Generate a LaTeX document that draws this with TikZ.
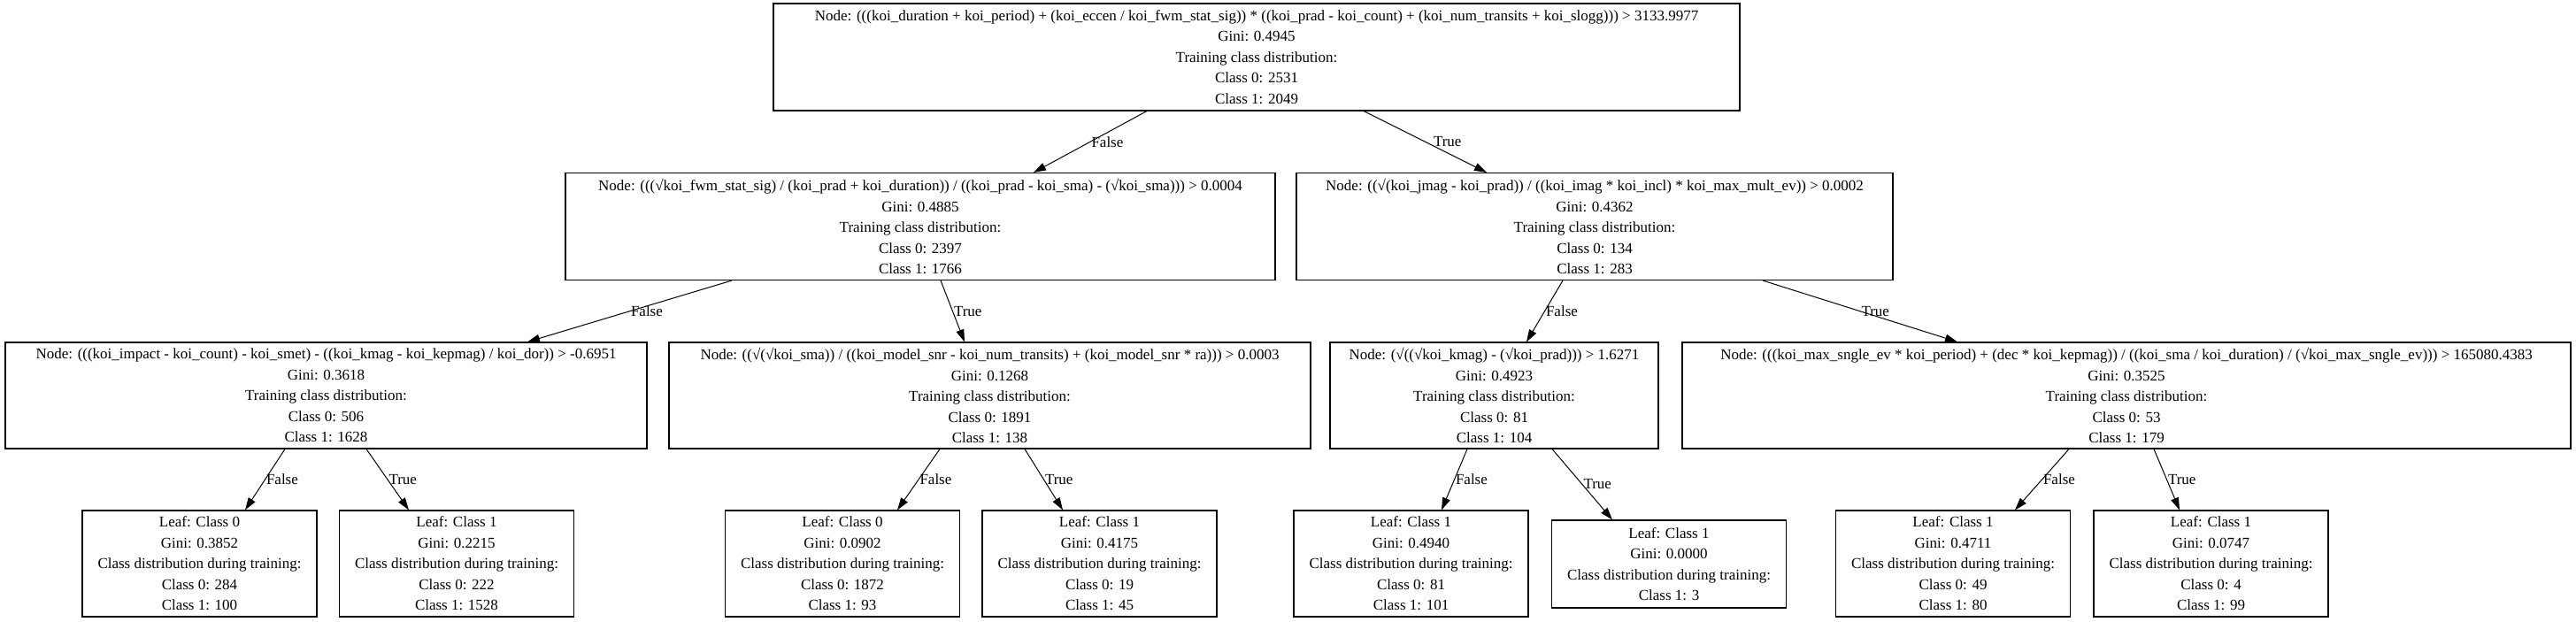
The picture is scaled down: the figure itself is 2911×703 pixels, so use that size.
\documentclass[tikz,border=0pt]{standalone}
\usepackage{fontspec}
\setmainfont{Liberation Serif}
\usetikzlibrary{arrows.meta}
\tikzset{
  box/.style={draw=black, line width=1.1pt, rectangle, align=center, inner sep=0pt,
    font=\fontsize{17}{23.5}\selectfont, minimum height=121pt},
  leaf/.style={box, minimum width=265pt, minimum height=120pt},
  edge/.style={line width=1pt, -{Triangle[length=14pt,width=9pt]}},
  lbl/.style={anchor=west, inner sep=1pt, font=\fontsize{17}{20}\selectfont}
}
\begin{document}
\begin{tikzpicture}[x=1pt,y=-1pt]
\useasboundingbox[fill=white] (0,0) rectangle (2911,703);
% root
\node[box, minimum width=1092pt] (root) at (1420,64.5) {Node: (((koi\_duration + koi\_period) + (koi\_eccen / koi\_fwm\_stat\_sig)) * ((koi\_prad - koi\_count) + (koi\_num\_transits + koi\_slogg))) > 3133.9977\\Gini: 0.4945\\Training class distribution:\\Class 0: 2531\\Class 1: 2049};
% level 2
\node[box, minimum width=802pt] (n1) at (1040,256) {Node: (((√koi\_fwm\_stat\_sig) / (koi\_prad + koi\_duration)) / ((koi\_prad - koi\_sma) - (√koi\_sma))) > 0.0004\\Gini: 0.4885\\Training class distribution:\\Class 0: 2397\\Class 1: 1766};
\node[box, minimum width=674pt] (n2) at (1802,256) {Node: ((√(koi\_jmag - koi\_prad)) / ((koi\_imag * koi\_incl) * koi\_max\_mult\_ev)) > 0.0002\\Gini: 0.4362\\Training class distribution:\\Class 0: 134\\Class 1: 283};
% level 3
\node[box, minimum width=725pt, minimum height=120pt] (a) at (368.5,447) {Node: (((koi\_impact - koi\_count) - koi\_smet) - ((koi\_kmag - koi\_kepmag) / koi\_dor)) > -0.6951\\Gini: 0.3618\\Training class distribution:\\Class 0: 506\\Class 1: 1628};
\node[box, minimum width=725pt, minimum height=120pt] (b) at (1118.5,447) {Node: ((√(√koi\_sma)) / ((koi\_model\_snr - koi\_num\_transits) + (koi\_model\_snr * ra))) > 0.0003\\Gini: 0.1268\\Training class distribution:\\Class 0: 1891\\Class 1: 138};
\node[box, minimum width=371pt, minimum height=120pt] (c) at (1688.5,447) {Node: (√((√koi\_kmag) - (√koi\_prad))) > 1.6271\\Gini: 0.4923\\Training class distribution:\\Class 0: 81\\Class 1: 104};
\node[box, minimum width=1004pt, minimum height=120pt] (d) at (2403,447) {Node: (((koi\_max\_sngle\_ev * koi\_period) + (dec * koi\_kepmag)) / ((koi\_sma / koi\_duration) / (√koi\_max\_sngle\_ev))) > 165080.4383\\Gini: 0.3525\\Training class distribution:\\Class 0: 53\\Class 1: 179};
% leaves
\node[leaf] (l1) at (225.5,637) {Leaf: Class 0\\Gini: 0.3852\\Class distribution during training:\\Class 0: 284\\Class 1: 100};
\node[leaf] (l2) at (516,637) {Leaf: Class 1\\Gini: 0.2215\\Class distribution during training:\\Class 0: 222\\Class 1: 1528};
\node[leaf] (l3) at (952,637) {Leaf: Class 0\\Gini: 0.0902\\Class distribution during training:\\Class 0: 1872\\Class 1: 93};
\node[leaf] (l4) at (1242.5,637) {Leaf: Class 1\\Gini: 0.4175\\Class distribution during training:\\Class 0: 19\\Class 1: 45};
\node[leaf] (l5) at (1594.5,637) {Leaf: Class 1\\Gini: 0.4940\\Class distribution during training:\\Class 0: 81\\Class 1: 101};
\node[leaf, minimum height=99pt] (l6) at (1886,637.5) {Leaf: Class 1\\Gini: 0.0000\\Class distribution during training:\\Class 1: 3};
\node[leaf] (l7) at (2207,637) {Leaf: Class 1\\Gini: 0.4711\\Class distribution during training:\\Class 0: 49\\Class 1: 80};
\node[leaf] (l8) at (2498.5,637) {Leaf: Class 1\\Gini: 0.0747\\Class distribution during training:\\Class 0: 4\\Class 1: 99};
% edges
\draw[edge] ([xshift=-124pt]root.south) -- node[lbl]{False} ([xshift=128pt]n1.north);
\draw[edge] ([xshift=121pt]root.south) -- node[lbl, xshift=8pt]{True} ([xshift=-122pt]n2.north);
\draw[edge] ([xshift=-213pt]n1.south) -- node[lbl]{False} ([xshift=227.5pt]a.north);
\draw[edge] ([xshift=23pt]n1.south) -- node[lbl]{True} ([xshift=-28.5pt]b.north);
\draw[edge] ([xshift=-36pt]n2.south) -- node[lbl]{False} ([xshift=36.5pt]c.north);
\draw[edge] ([xshift=190pt]n2.south) -- node[lbl]{True} ([xshift=-191pt]d.north);
\draw[edge] ([xshift=-46.5pt]a.south) -- node[lbl]{False} ([xshift=51.5pt]l1.north);
\draw[edge] ([xshift=45.5pt]a.south) -- node[lbl]{True} ([xshift=-54pt]l2.north);
\draw[edge] ([xshift=-56.5pt]b.south) -- node[lbl]{False} ([xshift=62pt]l3.north);
\draw[edge] ([xshift=39.5pt]b.south) -- node[lbl]{True} ([xshift=-41.5pt]l4.north);
\draw[edge] ([xshift=-30.5pt]c.south) -- node[lbl]{False} ([xshift=34.5pt]l5.north);
\draw[edge] ([xshift=65.5pt]c.south) -- node[lbl]{True} ([xshift=-64pt]l6.north);
\draw[edge] ([xshift=-65pt]d.south) -- node[lbl]{False} ([xshift=70pt]l7.north);
\draw[edge] ([xshift=31pt]d.south) -- node[lbl]{True} ([xshift=-35.5pt]l8.north);
\end{tikzpicture}
\end{document}
